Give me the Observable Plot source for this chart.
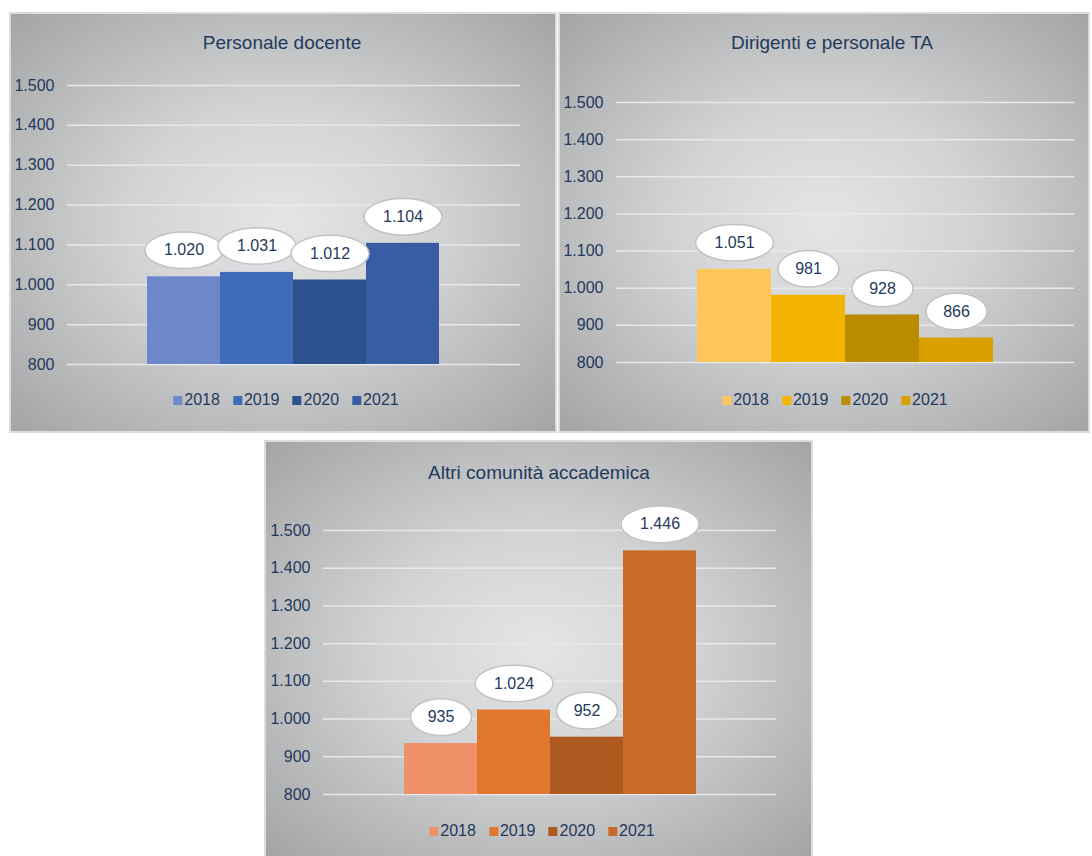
<!DOCTYPE html>
<html>
<head>
<meta charset="utf-8">
<script src="https://cdn.jsdelivr.net/npm/d3@7"></script>
<script src="https://cdn.jsdelivr.net/npm/@observablehq/plot@0.6"></script>
<style>
  html, body { margin: 0; padding: 0; background: #ffffff; }
  body { width: 1092px; height: 856px; position: relative; overflow: hidden; font-family: "Liberation Sans", Arial, sans-serif; }
  .panel { position: absolute; box-sizing: border-box; border: 2px solid #dcdcdc;
    background: radial-gradient(ellipse farthest-corner at 50% 50%, #e4e5e7 0%, #d2d3d5 40%, #a3a4a6 100%); overflow: hidden; }
  .panel svg { position: absolute; left: 0; top: 0; }
  .title { position: absolute; transform: translate(-50%, -50%); white-space: nowrap; font-size: 19px; color: #1f3a5c; }
  .legend { position: absolute; transform: translate(-50%, -50%); white-space: nowrap; font-size: 16px; color: #1f3a5c; display: flex; gap: 13px; }
  .legend span.item { display: inline-flex; align-items: center; }
  .legend span.sw { display: inline-block; width: 9px; height: 9px; margin-right: 2px; }
</style>
</head>
<body>
<script>
// ---- data ----
const years = ["2018", "2019", "2020", "2021"];
const titles = ["Personale docente", "Dirigenti e personale TA", "Altri comunità accademica"];
const docenteValues = [1020, 1031, 1012, 1104];
const taValues = [1051, 981, 928, 866];
const altriValues = [935, 1024, 952, 1446];
const blueColors = ["#6e87c8", "#3e6bba", "#2e528f", "#385da5"];
const goldColors = ["#fdc65a", "#f2b400", "#bc8c00", "#d9a000"];
const orangeColors = ["#ef9168", "#e0782e", "#ae5920", "#c86a28"];
const yTicks = [800, 900, 1000, 1100, 1200, 1300, 1400, 1500];

const fmt = d3.formatLocale({decimal: ",", thousands: ".", grouping: [3], currency: ["€", ""]}).format(",d");

function ellipseSymbol(rx, ry) {
  const k = 0.5522847498;
  return {
    draw(context) {
      context.moveTo(rx, 0);
      context.bezierCurveTo(rx, ry * k, rx * k, ry, 0, ry);
      context.bezierCurveTo(-rx * k, ry, -rx, ry * k, -rx, 0);
      context.bezierCurveTo(-rx, -ry * k, -rx * k, -ry, 0, -ry);
      context.bezierCurveTo(rx * k, -ry, rx, -ry * k, rx, 0);
      context.closePath();
    }
  };
}
const longEllipse = ellipseSymbol(39, 18.3);
const shortEllipse = ellipseSymbol(30.5, 18.3);

const panels = [
  {left: 9, top: 12, width: 548, height: 421, m: [73, 37, 69, 58], bars: [137, 431], title: [273, 31], legend: [277, 388], values: docenteValues, colors: blueColors, name: titles[0]},
  {left: 558, top: 12, width: 532, height: 421, m: [90, 16, 71, 58], bars: [139, 435], title: [274, 31], legend: [277, 388], values: taValues, colors: goldColors, name: titles[1]},
  {left: 264, top: 440, width: 549, height: 418, m: [90, 37, 64, 59], bars: [139, 432], title: [275, 33], legend: [278, 391], values: altriValues, colors: orangeColors, name: titles[2]}
];

const textColor = "#1f3a5c";
const labelDy = -26.5;

for (const p of panels) {
  const data = years.map((year, i) => ({year, value: p.values[i]}));
  const div = document.createElement("div");
  div.className = "panel";
  Object.assign(div.style, {left: p.left + "px", top: p.top + "px", width: p.width + "px", height: p.height + "px"});
  document.body.appendChild(div);

  const chart = Plot.plot({
    width: p.width - 4,
    height: p.height - 4,
    marginTop: p.m[0] - 2,
    marginRight: p.m[1] - 2,
    marginBottom: p.m[2] - 2,
    marginLeft: p.m[3] - 2,
    style: {background: "transparent", fontFamily: "'Liberation Sans', Arial, sans-serif", fontSize: "16px", color: textColor, overflow: "visible"},
    x: {domain: years, range: [p.bars[0] - 2, p.bars[1] - 2], padding: 0, axis: null},
    y: {domain: [yTicks[0], yTicks[yTicks.length - 1]], ticks: yTicks, tickFormat: fmt, tickSize: 0, tickPadding: 13, label: null},
    color: {domain: years, range: p.colors},
    marks: [
      Plot.ruleY(yTicks, {stroke: "#e8e8ea", strokeWidth: 1.5}),
      Plot.barY(data, {x: "year", y1: yTicks[0], y2: "value", fill: "year"}),
      Plot.dot(data.filter(d => fmt(d.value).length >= 5), {x: "year", y: "value", dy: labelDy, symbol: longEllipse, fill: "white", stroke: "#c2c2c2", strokeWidth: 1.5}),
      Plot.dot(data.filter(d => fmt(d.value).length < 5), {x: "year", y: "value", dy: labelDy, symbol: shortEllipse, fill: "white", stroke: "#c2c2c2", strokeWidth: 1.5}),
      Plot.text(data, {x: "year", y: "value", dy: labelDy, text: d => fmt(d.value), fill: textColor, fontSize: 16})
    ]
  });
  chart.style.left = "0px";
  chart.style.top = "0px";
  div.appendChild(chart);

  const title = document.createElement("div");
  title.className = "title";
  title.textContent = p.name;
  title.style.left = (p.title[0] - 2) + "px";
  title.style.top = (p.title[1] - 2) + "px";
  div.appendChild(title);

  const legend = document.createElement("div");
  legend.className = "legend";
  legend.style.left = (p.legend[0] - 2) + "px";
  legend.style.top = (p.legend[1] - 2) + "px";
  years.forEach((y, i) => {
    const item = document.createElement("span");
    item.className = "item";
    const sw = document.createElement("span");
    sw.className = "sw";
    sw.style.background = p.colors[i];
    item.appendChild(sw);
    item.appendChild(document.createTextNode(y));
    legend.appendChild(item);
  });
  div.appendChild(legend);
}
</script>
</body>
</html>
